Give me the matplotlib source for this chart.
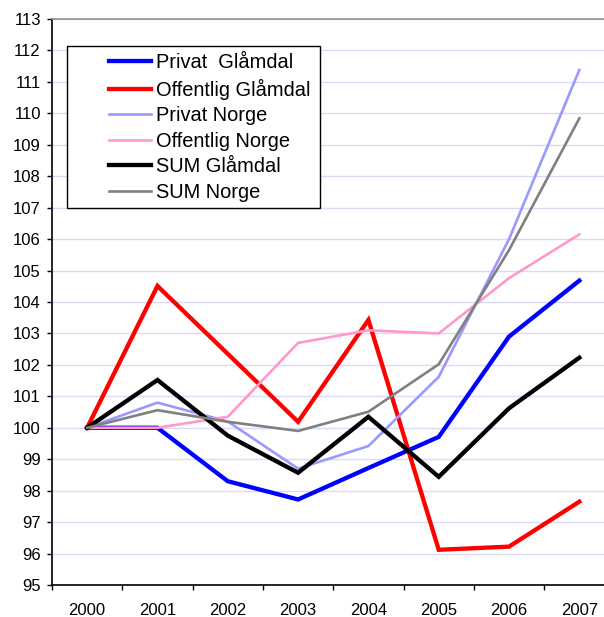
import matplotlib
matplotlib.use("Agg")
import matplotlib.pyplot as plt
from matplotlib.patches import Rectangle

years = ["2000", "2001", "2002", "2003", "2004", "2005", "2006", "2007"]
privat_glamdal = [100.0, 100.0, 98.3, 97.72, 98.72, 99.71, 102.9, 104.68]
offentlig_glamdal = [100.0, 104.51, 102.35, 100.19, 103.43, 96.12, 96.22, 97.65]
privat_norge = [100.0, 100.8, 100.2, 98.7, 99.42, 101.62, 106.0, 111.38]
offentlig_norge = [100.0, 100.0, 100.35, 102.7, 103.1, 103.0, 104.76, 106.15]
sum_glamdal = [100.0, 101.52, 99.75, 98.57, 100.35, 98.44, 100.62, 102.23]
sum_norge = [100.0, 100.56, 100.19, 99.9, 100.51, 102.02, 105.65, 109.84]

labels = ["Privat  Glåmdal", "Offentlig Glåmdal", "Privat Norge",
          "Offentlig Norge", "SUM Glåmdal", "SUM Norge"]
series = [privat_glamdal, offentlig_glamdal, privat_norge,
          offentlig_norge, sum_glamdal, sum_norge]
colors = ["#0000FF", "#FF0000", "#9999FF", "#FF99CC", "#000000", "#808080"]
widths = [3.1, 3.1, 1.9, 1.9, 3.1, 1.9]

plt.rcParams['font.family'] = ['Liberation Sans', 'DejaVu Sans']

W, H = 604, 617
fig = plt.figure(figsize=(W / 100, H / 100), dpi=100)
ax = fig.add_axes([52 / W, 32 / H, (614.5 - 52) / W, (585 - 19) / H])

x = list(range(len(years)))
handles = []
for s, c, w, lab in zip(series, colors, widths, labels):
    h, = ax.plot(x, s, color=c, lw=w, label=lab, solid_joinstyle='miter', zorder=3)
    handles.append(h)

ax.set_xlim(-0.5, len(years) - 0.5)
ax.set_ylim(95, 113)
ax.set_yticks(range(95, 114))
ax.tick_params(axis='y', labelsize=12, length=3.6, width=1, direction='out', pad=4.5)
ax.set_xticks([i - 0.5 for i in range(len(years) + 1)])
ax.set_xticklabels([])
ax.set_xticks(x, minor=True)
ax.set_xticklabels(years, minor=True)
ax.tick_params(axis='x', which='major', length=3.6, width=1, direction='out')
ax.tick_params(axis='x', which='minor', length=0, labelsize=12, pad=13)

ax.grid(axis='y', color='#DADAF8', lw=1.0, zorder=0)
ax.set_axisbelow(True)
for sp in ['left', 'bottom']:
    ax.spines[sp].set_color('black')
    ax.spines[sp].set_linewidth(1.2)
ax.spines['top'].set_color('#909090')
ax.spines['top'].set_linewidth(1.2)
ax.spines['right'].set_visible(False)

rect = Rectangle((67 / W, 1 - 208 / H), (320 - 67) / W, (208 - 46) / H,
                 transform=fig.transFigure, facecolor='white', edgecolor='black',
                 lw=1.0, zorder=5, clip_on=False)
ax.add_patch(rect)
leg = ax.legend(handles=handles, loc='upper left', frameon=False,
                bbox_to_anchor=(109 / W, 1 - 53 / H), bbox_transform=fig.transFigure,
                fontsize=14.4, handlelength=2.1, handletextpad=0.25,
                labelspacing=0.33, borderpad=0, borderaxespad=0)
leg.set_zorder(6)

fig.savefig("out.png", dpi=100)
